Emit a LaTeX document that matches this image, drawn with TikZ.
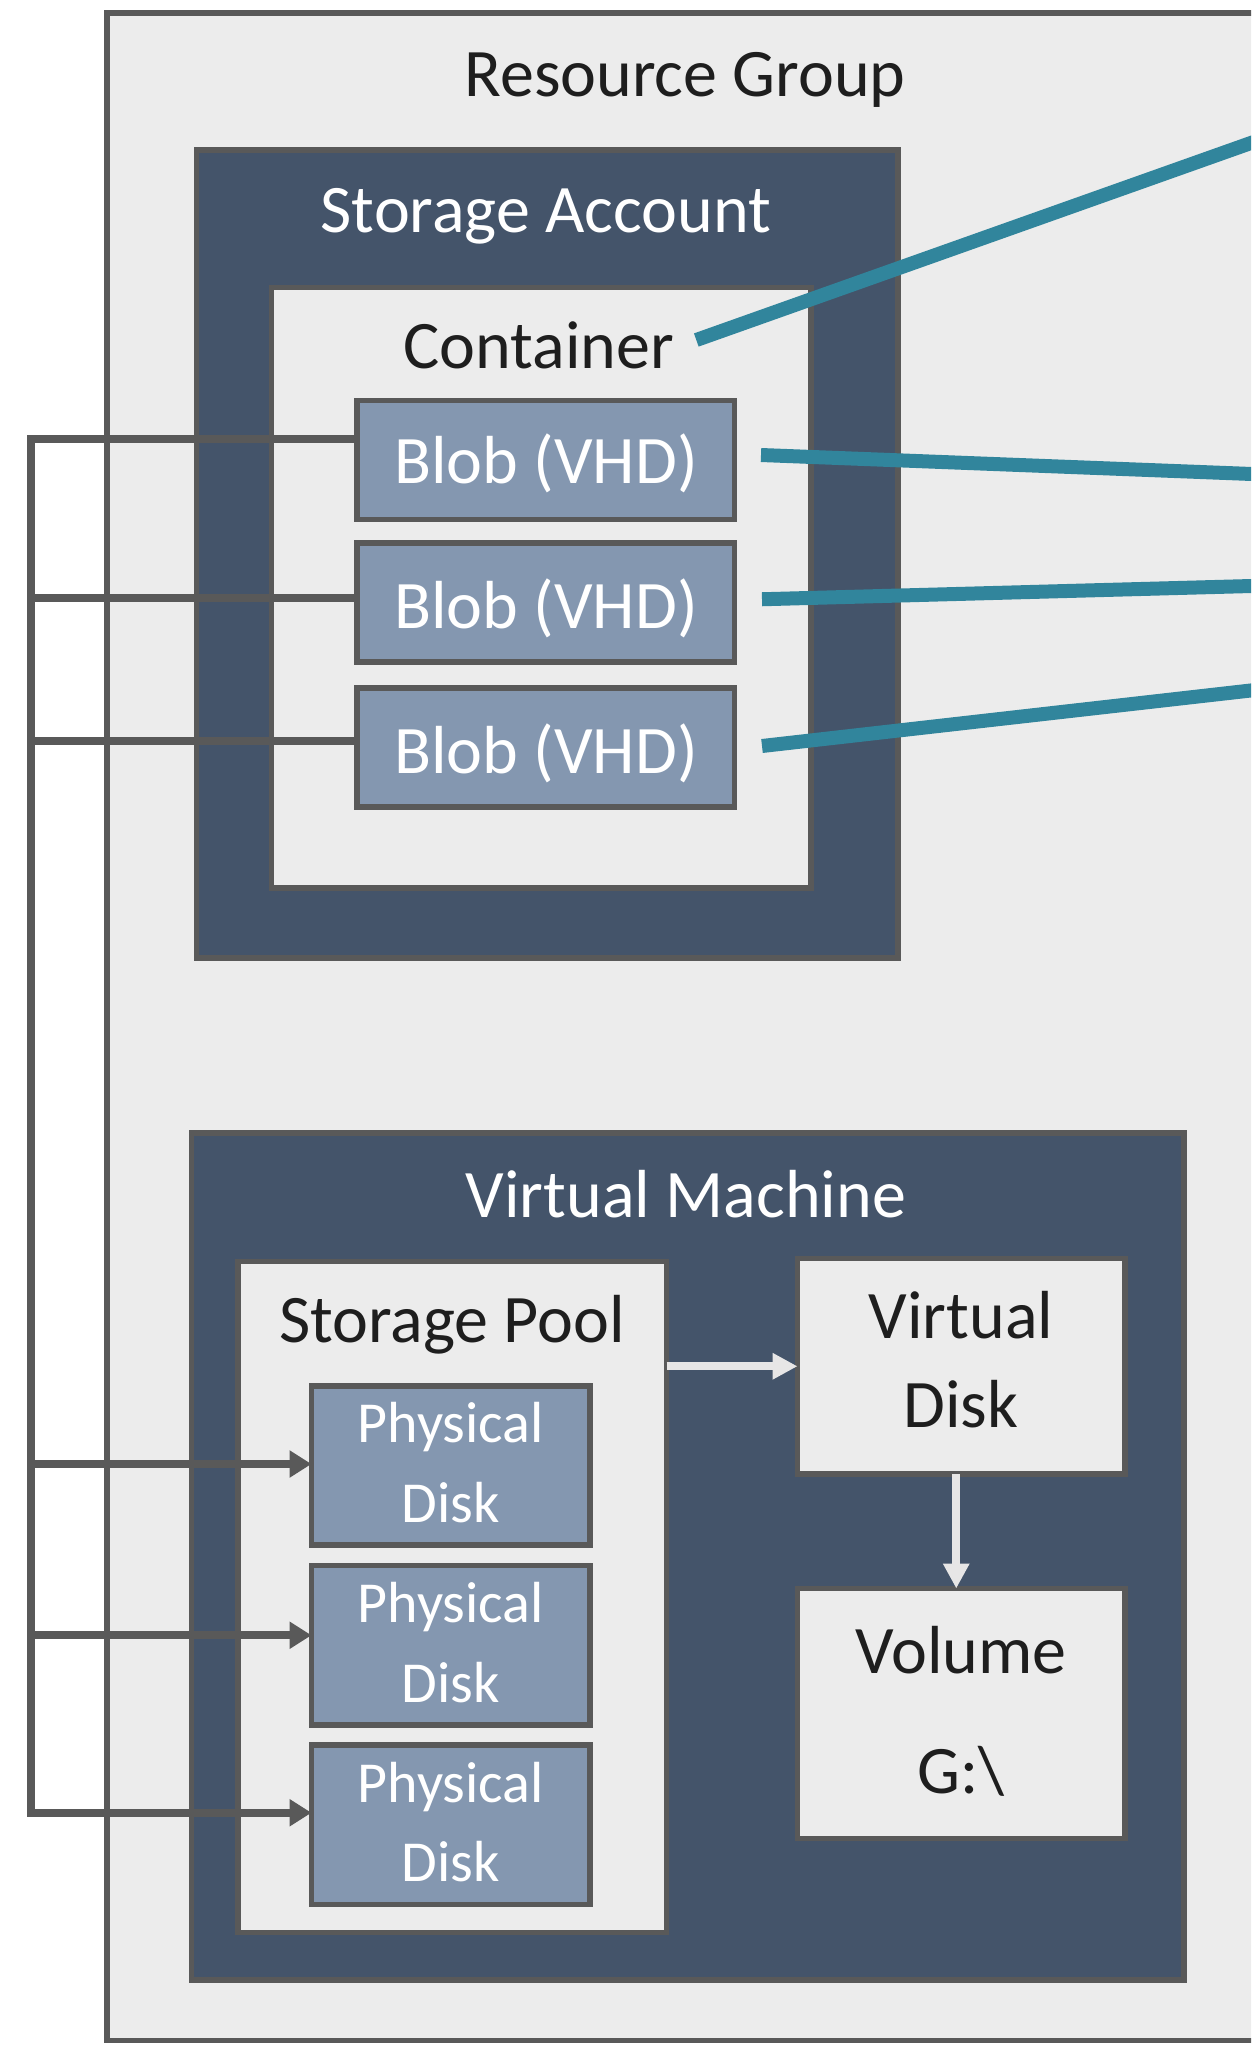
\documentclass[tikz,border=0pt]{standalone}
\usepackage{fontspec}
\setmainfont{Carlito}
\usetikzlibrary{arrows.meta}

\definecolor{frame}{HTML}{595959}
\definecolor{navy}{HTML}{44546A}
\definecolor{slate}{HTML}{8497B0}
\definecolor{paper}{HTML}{ECECEC}
\definecolor{tealline}{HTML}{31859C}
\definecolor{pale}{HTML}{E7E6E6}
\definecolor{ink}{HTML}{1E1E1E}

\tikzset{
  panel/.style={rectangle, draw=frame, line width=5.5pt, inner sep=0pt, outer sep=0pt},
  darkpanel/.style={panel, fill=navy},
  lightpanel/.style={panel, fill=paper},
  blobbox/.style={panel, fill=slate},
  title/.style={inner sep=0pt, outer sep=0pt, anchor=base, text=ink,
                font=\fontsize{68}{80}\selectfont},
  wtitle/.style={title, text=white},
  disktext/.style={title, text=white, font=\fontsize{58}{70}\selectfont},
  link/.style={draw=frame, line width=8pt},
  feed/.style={link, -{Triangle[length=22pt,width=26pt]}},
  flow/.style={draw=pale, line width=8pt, -{Triangle[length=25pt,width=25pt]}},
  mapline/.style={draw=tealline, line width=14pt},
}

\begin{document}
\begin{tikzpicture}[x=1pt, y=-1pt]
  % canvas
  \useasboundingbox (0,0) rectangle (1251,2047);
  \fill[white] (0,0) rectangle (1251,2047);
  \clip (0,0) rectangle (1251,2047);

  % resource group (runs past the right edge)
  \node[lightpanel, minimum width=1193pt, minimum height=2027.5pt] (rg) at (703.5,1026.75) {};
  \node[title] (rgtitle) at (685,97) {Resource Group};

  % storage account
  \node[darkpanel, minimum width=701.5pt, minimum height=808pt] (sa) at (547.25,554) {};
  \node[wtitle] (satitle) at (546,232) {Storage Account};

  % container with its blobs
  \node[lightpanel, minimum width=539.5pt, minimum height=600.5pt] (ct) at (541.25,587.75) {};
  \node[title] (cttitle) at (539,368) {Container};

  \node[blobbox, minimum width=377.5pt, minimum height=119pt] (b1) at (545.75,460) {};
  \node[blobbox, minimum width=377.5pt, minimum height=119pt] (b2) at (545.75,602.25) {};
  \node[blobbox, minimum width=377.5pt, minimum height=119pt] (b3) at (545.75,747.5) {};
  \node[wtitle] (b1t) at (546,483) {Blob (VHD)};
  \node[wtitle] (b2t) at (546,628) {Blob (VHD)};
  \node[wtitle] (b3t) at (546,773) {Blob (VHD)};

  % virtual machine
  \node[darkpanel, minimum width=992.5pt, minimum height=847pt] (vm) at (687.75,1556.5) {};
  \node[wtitle] (vmtitle) at (686,1217) {Virtual Machine};

  % storage pool with physical disks
  \node[lightpanel, minimum width=428.5pt, minimum height=671pt] (sp) at (452.25,1597) {};
  \node[title] (sptitle) at (452,1342) {Storage Pool};

  \node[blobbox, minimum width=278.5pt, minimum height=159pt] (pd1) at (450.75,1465.5) {};
  \node[blobbox, minimum width=278.5pt, minimum height=159.5pt] (pd2) at (450.75,1645.25) {};
  \node[blobbox, minimum width=278.5pt, minimum height=159.5pt] (pd3) at (450.75,1824.75) {};
  \node[disktext] (pd1a) at (450.75,1442) {Physical};
  \node[disktext] (pd1b) at (450.75,1522) {Disk};
  \node[disktext] (pd2a) at (450.75,1622) {Physical};
  \node[disktext] (pd2b) at (450.75,1702) {Disk};
  \node[disktext] (pd3a) at (450.75,1802) {Physical};
  \node[disktext] (pd3b) at (450.75,1881) {Disk};

  % virtual disk and volume
  \node[lightpanel, minimum width=327.5pt, minimum height=215.5pt] (vd) at (961.25,1366.25) {};
  \node[title] (vda) at (961,1338) {Virtual};
  \node[title] (vdb) at (961,1427) {Disk};

  \node[lightpanel, minimum width=327.5pt, minimum height=250pt] (vol) at (961.25,1713.5) {};
  \node[title] (vola) at (961,1673) {Volume};
  \node[title] (volb) at (961,1793) {G:\textbackslash};

  % flow inside the virtual machine
  \draw[flow] (sp.east |- vd.west) -- (vd.west);
  \draw[flow] ([xshift=-5pt]vd.south) -- ([xshift=-5pt]vol.north);

  % blob-to-disk wiring along the left bus
  \coordinate (bus) at (30.5,0);
  \coordinate (j1) at ([yshift=21pt]b1.west);
  \coordinate (j2) at ([yshift=4pt]b2.west);
  \coordinate (j3) at ([yshift=6.5pt]b3.west);
  \coordinate (k1) at ([yshift=1.5pt]pd1.west);
  \coordinate (k2) at ([yshift=10pt]pd2.west);
  \coordinate (k3) at ([yshift=12pt]pd3.west);

  \draw[feed] (j1) -- (j1 -| bus) -- (k3 -| bus) -- (k3);
  \draw[link] (j2) -- (j2 -| bus);
  \draw[link] (j3) -- (j3 -| bus);
  \draw[feed] (k1 -| bus) -- (k1);
  \draw[feed] (k2 -| bus) -- (k2);

  % teal leaders running off to the right
  \coordinate (tA) at (1270,136.2);
  \coordinate (t1) at (1270,474.7);
  \coordinate (t2) at (1270,585.5);
  \coordinate (t3) at (1270,688.3);
  \draw[mapline] ([shift={(22,-28)}]cttitle.base east) -- (tA);
  \draw[mapline] ([shift={(26.5,-5)}]b1.east) -- (t1);
  \draw[mapline] ([shift={(27.5,-3)}]b2.east) -- (t2);
  \draw[mapline] ([shift={(27.5,-1.5)}]b3.east) -- (t3);
\end{tikzpicture}
\end{document}
